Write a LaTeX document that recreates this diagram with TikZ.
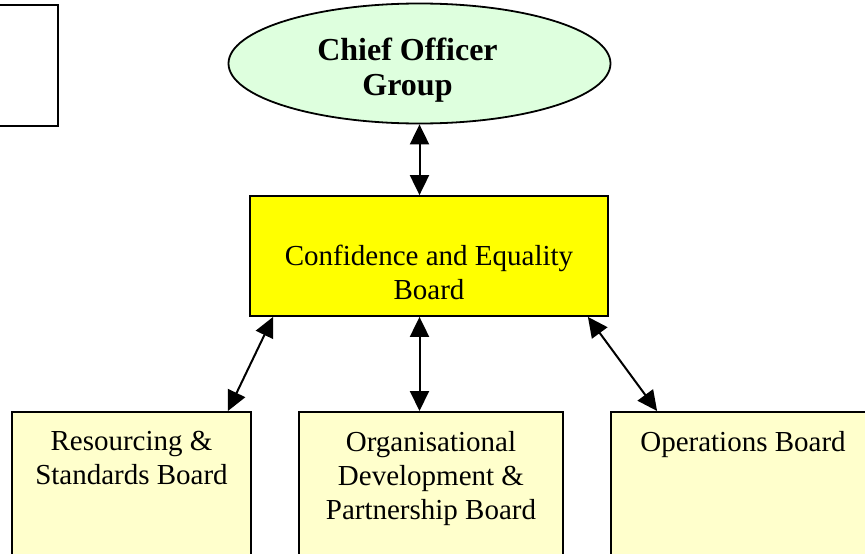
\documentclass[tikz,border=0pt]{standalone}
\usepackage{fontspec}
\setmainfont{Liberation Serif}
\usetikzlibrary{arrows.meta,positioning,shapes.geometric}
\definecolor{mintfill}{RGB}{222,255,222}
\definecolor{boardfill}{RGB}{255,255,204}
\definecolor{cebfill}{RGB}{255,255,0}

\begin{document}
\begin{tikzpicture}[
      x=1pt, y=1pt,
      every node/.style={inner sep=0pt, align=center, font=\fontsize{29}{33.5}\selectfont},
      box/.style={draw, line width=1.8pt},
      board/.style={box, fill=boardfill, anchor=north, minimum height=200pt},
      link/.style={{Triangle[length=20pt,width=19pt]}-{Triangle[length=20pt,width=19pt]}, line width=2pt}
    ]
      \useasboundingbox (0,0) rectangle (865,-554);
      \clip (0,0) rectangle (865,-554);

      \node[box, anchor=north east, minimum width=100pt, minimum height=121pt] (side) at (59,-4) {};
      \node[box, ellipse, fill=mintfill, minimum width=382pt, minimum height=120pt] (cog) at (419.5,-63.5) {};
      \node[font=\bfseries\fontsize{32}{35.5}\selectfont] (cogtext) at ([xshift=-12pt,yshift=-6.5pt]cog.center) {Chief Officer\\Group};

      \node[box, fill=cebfill, minimum width=358pt, minimum height=120pt] (ceb) at (429,-256) {};
      \node (cebtext) at ([yshift=-16.6pt]ceb.center) {Confidence and Equality\\Board};

      \node[board, minimum width=239pt] (rsb) at (131.5,-411) {};
      \node[board, minimum width=264pt] (odp) at (431,-411) {};
      \node[board, minimum width=264pt] (ops) at (743,-411) {};
      \node[below=20.5pt of rsb.north, font=\fontsize{29}{34}\selectfont] (rsbtext) {Resourcing \&\\Standards Board};
      \node[below=20.5pt of odp.north, font=\fontsize{29}{34}\selectfont] (odptext) {Organisational\\Development \&\\Partnership Board};
      \node[below=20.5pt of ops.north] (opstext) {Operations Board};

      \draw[link] (cog.south) -- (cog.south |- ceb.north);
      \draw[link] (ceb.south -| cog.south) -- (odp.north -| cog.south);
      \draw[link] ([xshift=24pt]ceb.south west) -- ([xshift=-24pt]rsb.north east);
      \draw[link] ([xshift=-21pt]ceb.south east) -- ([xshift=47pt]ops.north west);
    \end{tikzpicture}
\end{document}
